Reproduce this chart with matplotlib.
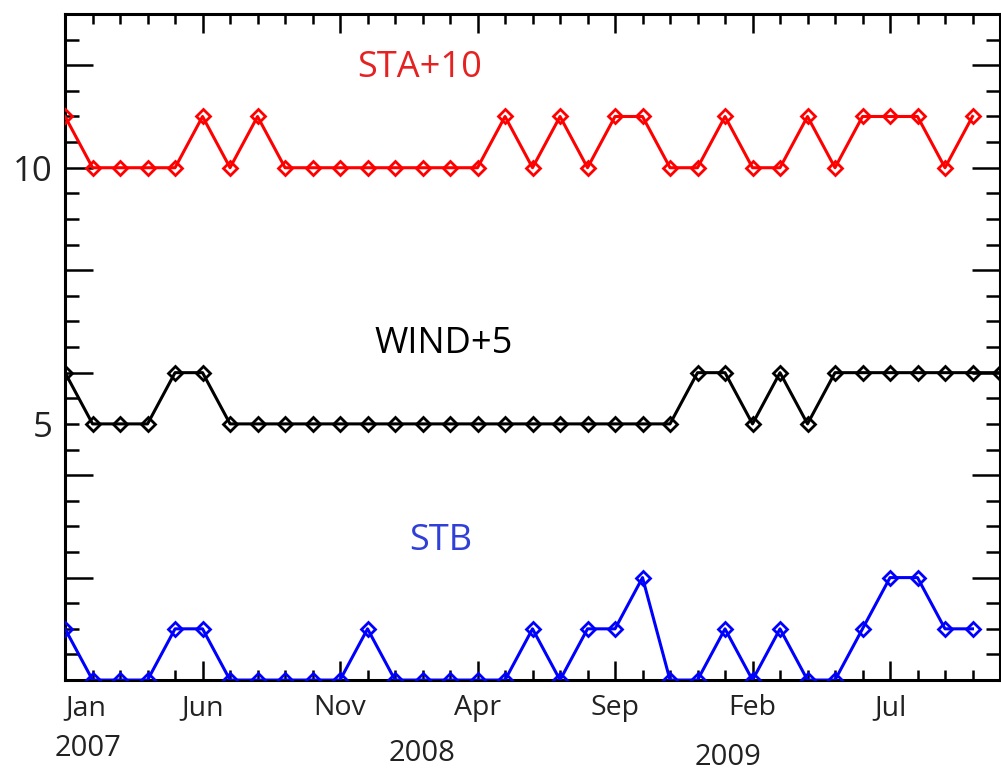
import numpy as np
import matplotlib
matplotlib.use("Agg")
import matplotlib.pyplot as plt
from matplotlib.transforms import ScaledTranslation

plt.rcParams['font.family'] = ['Open Sans', 'DejaVu Sans']

# monthly counts, Jan 2007 onward (month index 0 = Jan 2007)
sta = [1, 0, 0, 0, 0, 1, 0, 1, 0, 0, 0, 0, 0, 0, 0, 0, 1, 0, 1, 0,
       1, 1, 0, 0, 1, 0, 0, 1, 0, 1, 1, 1, 0, 1]
wind = [1, 0, 0, 0, 1, 1, 0, 0, 0, 0, 0, 0, 0, 0, 0, 0, 0, 0, 0, 0,
        0, 0, 0, 1, 1, 0, 1, 0, 1, 1, 1, 1, 1, 1, 1]
stb = [1, 0, 0, 0, 1, 1, 0, 0, 0, 0, 0, 1, 0, 0, 0, 0, 0, 1, 0, 1,
       1, 2, 0, 0, 1, 0, 1, 0, 0, 1, 2, 2, 1, 1]
sta_offset = 10
wind_offset = 5

month_ticks = [0, 5, 10, 15, 20, 25, 30]
month_labels = ["Jan", "Jun", "Nov", "Apr", "Sep", "Feb", "Jul"]
year_pos = [0.85, 13.0, 24.1]
year_labels = ["2007", "2008", "2009"]

fig = plt.figure(figsize=(10.01, 7.79), dpi=100)
ax = fig.add_axes([0.065, 0.127, 0.934, 0.855])

def series(vals, off, color):
    x = np.arange(len(vals))
    y = np.asarray(vals) + off
    ax.plot(x, y, color=color, lw=2.2, marker='D', ms=7, mfc='none',
            mec=color, mew=2.0, zorder=3)

series(sta, sta_offset, 'red')
series(wind, wind_offset, 'black')
series(stb, 0, 'blue')

ax.set_xlim(0, 34)
ax.set_ylim(0, 13)

ax.text(12.9, 11.95, "STA+10", color='#e52222', fontsize=26, ha='center', va='center')
ax.text(13.75, 6.56, "WIND+5", color='black', fontsize=26, ha='center', va='center')
ax.text(13.65, 2.71, "STB", color='#2f3fd8', fontsize=26, ha='center', va='center')

# x axis: major every 5 months, minor every month
ax.set_xticks(month_ticks, labels=month_labels)
ax.set_xticks(np.arange(0, 35), minor=True)
jan = ax.get_xticklabels()[0]
jan.set_horizontalalignment('left')
jan.set_transform(jan.get_transform() + ScaledTranslation(-0.08, 0, fig.dpi_scale_trans))
for yl, yy, yv in zip(year_labels, year_pos, [-0.102, -0.110, -0.117]):
    ax.text(yy, yv, yl, transform=ax.get_xaxis_transform(), fontsize=21,
            ha='center', va='center', color='#222222')

# y axis: long ticks every 2, short every 0.5, labels only at 5 and 10
ax.set_yticks(np.arange(0, 13, 2), labels=['', '', '', '', '', '10', ''])
yminor = np.arange(0, 13.01, 0.5)
ax.set_yticks(yminor, labels=['5' if v == 5 else '' for v in yminor], minor=True)

ax.tick_params(axis='x', which='both', direction='in', top=True, bottom=True,
               labelsize=20.5, pad=10, width=1.8, colors='black', labelcolor='#222222')
ax.tick_params(axis='x', which='major', length=14)
ax.tick_params(axis='x', which='minor', length=7)
ax.tick_params(axis='y', which='both', direction='in', left=True, right=True,
               labelsize=25, pad=9, width=1.8, labelcolor='#222222')
ax.tick_params(axis='y', which='major', length=20)
ax.tick_params(axis='y', which='minor', length=10)

for s in ax.spines.values():
    s.set_linewidth(2.2)

fig.savefig("out.png", dpi=100)
